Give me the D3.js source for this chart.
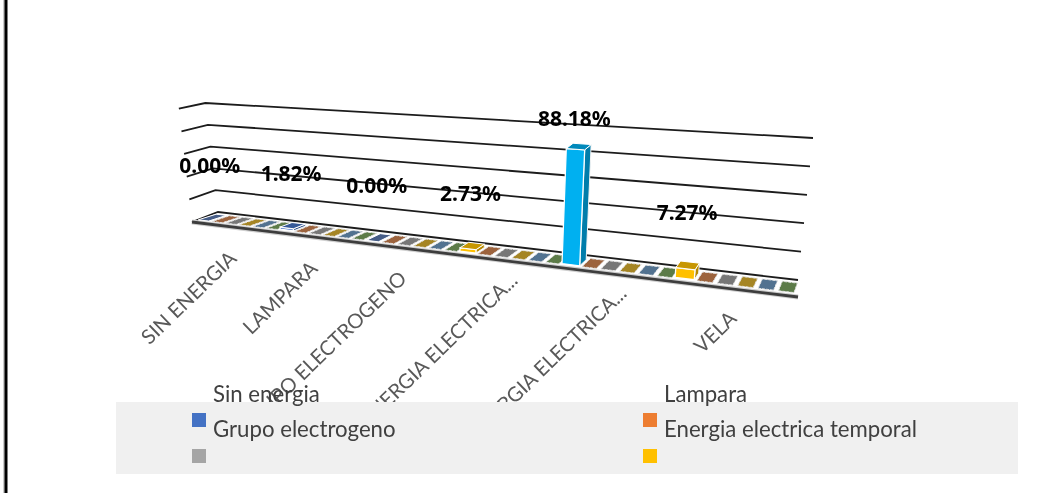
<!DOCTYPE html>
<html><head><meta charset="utf-8">
<script src="https://cdn.jsdelivr.net/npm/d3@7"></script>
<style>
html,body{margin:0;padding:0;background:#fff;overflow:hidden}
svg{display:block;filter:blur(.4px)}
text{font-family:Lato,"Open Sans",sans-serif}
</style></head><body>
<svg id="c" width="1055" height="493"></svg>
<script>
const categories = ["SIN ENERGIA","LAMPARA","GRUPO ELECTROGENO","ENERGIA ELECTRICA...","ENERGIA ELECTRICA...","VELA"];
const seriesMain = [0.00,1.82,0.00,2.73,88.18,7.27];
const seriesZero = [0,0,0,0,0,0];
const labels = ["0.00%","1.82%","0.00%","2.73%","88.18%","7.27%"];
const seriesColors = ["#4472C4","#ED7D31","#A5A5A5","#FFC000","#5B9BD5","#70AD47"];
const pointColors = ["#4472C4","#4472C4","#4472C4","#FFC000","#00B0F0","#FFC000"];
const legendNames = ["Sin energia","Lampara","Grupo electrogeno","Energia electrica temporal"];
const swatchColors = ["#4472C4","#ED7D31","#A5A5A5","#FFC000"];
const ticks = [0,20,40,60,80,100];

const svg = d3.select("#c");
const xMid = d3.scaleLinear().domain([0,1,2,3,4,5,6]).range([205,286,371,464,565,677,798]);
const t = d3.scaleLinear().domain([205,798]).range([0,1]);
const yMid = d3.scaleLinear().domain([205,798]).range([217,288.5]);
const depthX = d3.scaleLinear().domain([0,1]).range([26,0]);
const depthY = d3.scaleLinear().domain([0,1]).range([-10,-17]);
const wallH = d3.scaleLinear().domain([0,1]).range([109,142]);
const wallS = d3.scaleLinear().domain([0,1]).range([-11,15]);
const labelX = d3.scaleLinear().domain([0,1,2,3,4,5]).range([238,319,408,519,628,738]);
const labelY = d3.scaleLinear().domain([0,1,2,3,4,5]).range([260,270,280,282,295,320]);
function proj(c,d,v,shear=0){
  const mx=xMid(c), u=t(mx), k=1+(1-d)*.04*(1-u);
  const f=v/100;
  return [mx+(d-.5)*(depthX(u)+shear)+f*wallS(u)*k*(u<.02?1.15:1), yMid(mx)+(d-.5)*depthY(u)-f*wallH(u)*k];
}
const line=d3.line();

svg.append("rect").attr("x",3.5).attr("y",0).attr("width",1).attr("height",493).attr("fill","#999");
svg.append("rect").attr("x",4.5).attr("y",0).attr("width",3).attr("height",493).attr("fill","#000");

svg.append("g").selectAll("path").data(ticks).join("path")
  .attr("d",v=>line([proj(0,0,v),proj(0,1,v),proj(6,1,v)]))
  .attr("fill","none").attr("stroke","#1c1c1c").attr("stroke-width",1.8);
svg.append("path").attr("d",line([proj(0,0,0),proj(6,0,0)]))
  .attr("fill","none").attr("stroke","#cfcfcf").attr("stroke-width",5);
svg.append("path").attr("d",line([proj(0,0,0),proj(6,0,0)]))
  .attr("fill","none").attr("stroke","#3d3d3d").attr("stroke-width",2.8);

const d0=.24, d1=.8, shear=6;
function box(g,c0,c1,v,col,isFirst){
  const top=isFirst&&v>0?d3.color(col).darker(.7):d3.interpolateRgb(d3.color(col).darker(.7),"#666")(.35);
  const side=d3.color(col).darker(.95);
  const P=(c,d,val)=>proj(c,d,val,shear);
  const a=v>0?[d0+.04,d1-.1]:[d0,d1];
  if(v>0){
    g.append("path").attr("d",line([P(c1,a[0],0),P(c1,a[1],0),P(c1,a[1],v),P(c1,a[0],v)])+"Z").attr("fill",side).attr("stroke","#f4f4f4");
    g.append("path").attr("d",line([P(c0,a[0],0),P(c1,a[0],0),P(c1,a[0],v),P(c0,a[0],v)])+"Z").attr("fill",col).attr("stroke","#fff").attr("stroke-width",1.3);
  }
  g.append("path").attr("d",line([P(c0,a[0],v),P(c1,a[0],v),P(c1,a[1],v),P(c0,a[1],v)])+"Z")
    .attr("fill",top).attr("stroke",isFirst?"#fff":"#e2e2e2").attr("stroke-width",1).attr("stroke-dasharray",isFirst?null:"3 1");
}
const boxes=svg.append("g");
const allSeries=[seriesMain,seriesZero,seriesZero,seriesZero,seriesZero,seriesZero];
categories.forEach((cat,i)=>{
  allSeries.forEach((vals,s)=>{
    const gap=(s===0&&vals[i]>0)?.03:.12;
    const c0=i+(s+gap)/6, c1=i+(s+1-gap)/6;
    box(boxes,c0,c1,vals[i],s===0?pointColors[i]:seriesColors[s],s===0);
  });
});

svg.append("g").selectAll("text").data(categories).join("text")
  .attr("transform",(d,i)=>`translate(${labelX(i)},${labelY(i)}) rotate(-44)`)
  .attr("text-anchor","end").attr("font-size",20.3).attr("fill","#595959").text(d=>d);

const lx=d3.scaleOrdinal().domain([0,1]).range([192,643]);
const textRow=d3.scaleLinear().domain([0,1]).range([402,437]);
const swatchRow=d3.scaleLinear().domain([0,1]).range([413,449]);
svg.append("rect").attr("x",116).attr("y",402).attr("width",902).attr("height",72).attr("fill","#f0f0f0");
const legend=svg.append("g");
legendNames.forEach((n,i)=>{
  const col=i%2, row=Math.floor(i/2);
  legend.append("rect").attr("x",lx(col)).attr("y",swatchRow(row)).attr("width",14).attr("height",14).attr("fill",swatchColors[i]);
  legend.append("text").attr("x",lx(col)+21).attr("y",textRow(row)).attr("font-size",22.2).attr("fill","#404040").text(n);
});

svg.append("g").selectAll("text").data(labels).join("text")
  .attr("x",(d,i)=>xMid(i+1/12)+(seriesMain[i]>50||i===5?0:-2))
  .attr("y",(d,i)=>proj(i+1/12,.5,seriesMain[i])[1]+(seriesMain[i]>50?-20:-45))
  .attr("text-anchor","middle").attr("font-size",21).attr("font-weight",700).attr("fill","#000")
  .style("font-family","'Noto Sans',sans-serif").text(d=>d);
</script></body></html>
